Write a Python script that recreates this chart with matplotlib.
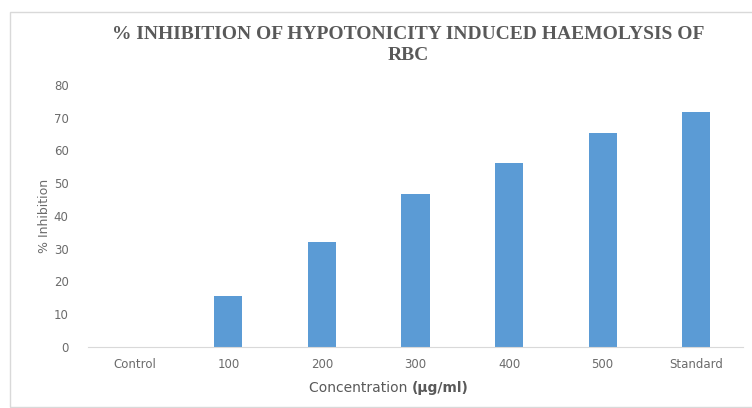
import matplotlib.pyplot as plt
from matplotlib.patches import Rectangle

categories = ['Control', '100', '200', '300', '400', '500', 'Standard']
inhibition = [0, 15.7, 32.2, 46.6, 56.1, 65.4, 71.8]

W, H = 752, 408
fig = plt.figure(figsize=(W / 100, H / 100), dpi=100)
ax = fig.add_axes([88 / W, 1 - 347 / H, 655 / W, 262 / H])

x = range(len(categories))
ax.bar(x, inhibition, width=0.3, color='#5b9bd5')

ax.set_xlim(-0.5, len(categories) - 0.5)
ax.set_ylim(0, 80)
ax.set_yticks(range(0, 81, 10))
ax.set_xticks(list(x))
ax.set_xticklabels(categories)

for side in ['top', 'right', 'left']:
    ax.spines[side].set_visible(False)
ax.spines['bottom'].set_color('#d9d9d9')
ax.tick_params(axis='both', length=0, labelsize=8.5, colors='#6b6b6b', pad=8)
ax.tick_params(axis='y', pad=14)

ax.set_ylabel('% Inhibition', fontsize=9, color='#6b6b6b', labelpad=2)

# x label, with the unit part in bold
lbl = fig.text(0.548, 1 - 388 / H, 'Concentration ', fontsize=10, color='#595959',
               ha='right', va='center')
ax.annotate('(µg/ml)', xy=(1, 0), xycoords=lbl, fontsize=10, color='#595959',
            fontweight='bold', ha='left', va='bottom')

fig.text(0.543, 1 - 34.5 / H, '% INHIBITION OF HYPOTONICITY INDUCED HAEMOLYSIS OF',
         family='Liberation Serif', fontweight='bold', fontsize=14, color='#595959',
         ha='center', va='center')
fig.text(0.543, 1 - 55 / H, 'RBC', family='Liberation Serif', fontweight='bold',
         fontsize=14, color='#595959', ha='center', va='center')

# light frame around the chart area
fig.patches.append(Rectangle((10 / W, 0.002), 1.2, 1 - 12 / H - 0.002,
                             transform=fig.transFigure, fill=False,
                             edgecolor='#d9d9d9', linewidth=1))

fig.savefig('out.png', dpi=100)
